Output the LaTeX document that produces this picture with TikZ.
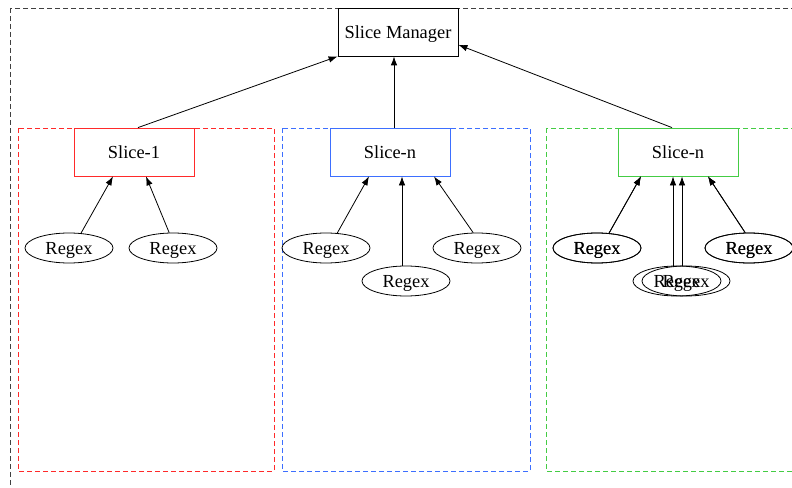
\documentclass[tikz,border=0pt]{standalone}
\usepackage{fontspec}
\setmainfont{Liberation Serif}
\usetikzlibrary{arrows.meta,shapes.geometric}

\definecolor{slicered}{HTML}{FF2A2A}
\definecolor{sliceblue}{HTML}{3D6FFF}
\definecolor{slicegreen}{HTML}{44CC44}

\tikzset{
  box/.style={draw, rectangle, minimum width=120pt, minimum height=48pt, inner sep=0pt, text depth=0pt, line width=0.8pt},
  regex/.style={draw, ellipse, minimum width=88pt, minimum height=30pt, inner sep=0pt, text depth=0pt, line width=0.8pt},
  cluster/.style={dash pattern=on 5pt off 3pt, line width=0.8pt},
  link/.style={-{Latex[length=9pt,width=6.5pt]}, line width=0.8pt},
}

\begin{document}
\begin{tikzpicture}[x=1pt,y=-1pt,font=\fontsize{18.4}{20}\selectfont]
\useasboundingbox (0,0) rectangle (792,487);
\clip (0,0) rectangle (792,487);

% clusters
\draw [cluster, black!75] (10,8) rectangle (800,495);
\draw [cluster, slicered] (18,128) rectangle (274,471);
\draw [cluster, sliceblue] (282,128) rectangle (530,471);
\draw [cluster, slicegreen] (546,128) rectangle (800,471);

\node [box] (mgr) at (398,32) {Slice Manager};

\node [box, slicered, text=black] (s1) at (134,152) {Slice-1};
\node [regex] (r11) at (69,248) {Regex};
\node [regex] (r12) at (173,248) {Regex};

\node [box, sliceblue, text=black] (s2) at (390,152) {Slice-n};
\node [regex] (r21) at (326,248) {Regex};
\node [regex] (r22) at (406,281) {Regex};
\node [regex] (r23) at (477,248) {Regex};

\node [box, slicegreen, text=black] (s3) at (678,152) {Slice-n};
\node [regex] (r31) at (597,248) {Regex};
\node [regex] (r31b) at (597,248) {Regex};
\node [regex] (r32) at (677,281) {Regex};
\node [regex] (r32b) at (686,281) {Regex};
\node [regex] (r33) at (749,248) {Regex};
\node [regex] (r33b) at (749,248) {Regex};

% slices to manager
\draw [link] ([xshift=4pt]s1.north) -- (mgr.south west);
\draw [link] ([xshift=4pt]s2.north) -- ([xshift=4pt]s2.north |- mgr.south);
\draw [link] ([xshift=-6pt]s3.north) -- (mgr.-12);

% regexes to slices
\draw [link] (r11.51) -- ([xshift=-21pt]s1.south);
\draw [link] (r12.104) -- ([xshift=12pt]s1.south);

\draw [link] (r21.53) -- ([xshift=-21pt]s2.south);
\draw [link] ([xshift=-4pt]r22.north) -- ([xshift=12pt]s2.south);
\draw [link] (r23.104) -- ([xshift=44pt]s2.south);

\draw [link] (r31.51) -- ([xshift=-37pt]s3.south);
\draw [link] (r31b.51) -- ([xshift=-37pt]s3.south);
\draw [link] ([xshift=-4pt]r32.north) -- ([xshift=-5pt]s3.south);
\draw [link] ([xshift=-4pt]r32b.north) -- ([xshift=4pt]s3.south);
\draw [link] (r33.104) -- ([xshift=30pt]s3.south);
\draw [link] (r33b.104) -- ([xshift=30pt]s3.south);

\end{tikzpicture}
\end{document}
